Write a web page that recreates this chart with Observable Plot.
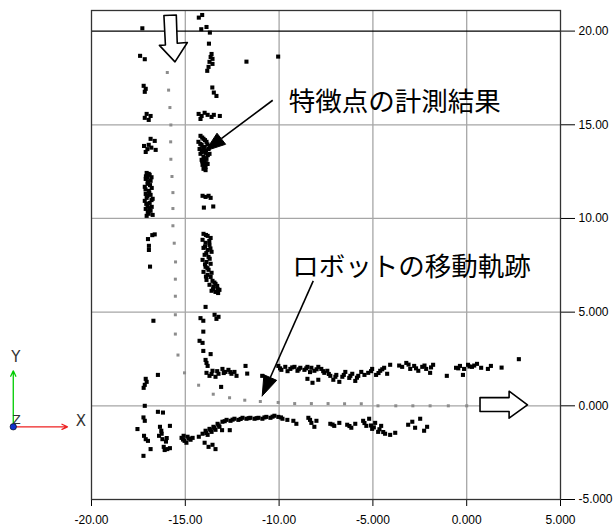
<!DOCTYPE html>
<html>
<head>
<meta charset="utf-8">
<script src="https://cdn.jsdelivr.net/npm/d3@7"></script>
<script src="https://cdn.jsdelivr.net/npm/@observablehq/plot@0.6"></script>
<style>
  html, body { margin: 0; padding: 0; background: #fff; overflow: hidden; }
</style>
</head>
<body>
<div id="chart"></div>
<script>
// ---- Robot trajectory (grey dots) ----
const trajX = [-15.96,-15.89,-15.82,-15.77,-15.78,-15.77,-15.71,-15.66,-15.66,-15.66,-15.59,-15.52,-15.53,-15.53,-15.53,-15.53,-15.39,-15.04,-14.29,-13.51,-12.64,-11.83,-11.00,-10.05,-9.17,-8.28,-7.39,-6.51,-5.62,-4.73,-3.78,-2.87,-1.95,-0.98,0.00];
const trajY = [17.79,16.85,15.92,14.99,14.09,13.16,12.24,11.38,10.53,9.61,8.68,7.68,6.76,5.85,4.86,3.83,2.71,1.76,1.10,0.62,0.43,0.30,0.23,0.18,0.12,0.12,0.12,0.11,0.11,0.00,0.00,0.00,0.00,0.00,0.00];

// ---- Measured feature points (black squares) ----
const featX = [
 -17.29,-17.41,-17.16,-17.22,-17.11,-17.16,-17.06,-16.85,-17.16,-16.95,-16.85,-16.63,-17.20,-17.02,-16.81,-16.58,-17.11,-16.95,
 -17.06,-16.90,-17.11,-16.85,-17.01,-17.16,-16.79,-16.95,-17.11,-16.85,-17.06,-16.74,-17.16,-16.90,-17.01,-16.79,-17.11,-16.85,-16.95,-17.06,-16.74,-17.01,
 -16.76,-16.99,-16.63,-16.94,-16.94,-16.88,-16.70,-16.46,-17.11,-17.06,-17.16,-17.22,-17.16,-17.23,-17.16,-17.55,-17.20,-17.11,-16.99,-16.85,-17.23,
 -16.46,-16.19,-16.35,-16.28,-16.40,-16.22,-15.99,-16.03,-15.82,-16.10,-15.96,-15.82,-16.26,-16.15,
 -14.28,-14.10,-14.15,-13.87,-13.69,-13.74,-13.60,-13.65,-13.55,-13.71,-13.55,-13.76,-13.83,-13.56,-13.48,-13.34,
 -14.29,-14.13,-13.97,-14.19,-13.81,-13.60,-13.48,-13.16,-11.74,-10.05,
 -14.19,-14.03,-14.30,-13.87,-14.13,-13.97,-14.24,-13.76,-14.08,-13.92,-14.19,-13.71,-14.03,-13.87,-14.13,-13.97,-13.81,-14.08,-13.92,-14.03,-13.92,-13.65,
 -14.08,-13.92,-13.76,-13.65,-14.01,-13.51,
 -14.03,-13.81,-13.65,-14.08,-13.92,-13.71,-14.03,-13.81,-13.60,-13.97,-13.76,-14.08,-13.87,-13.65,-13.92,-13.76,-14.03,-13.81,-13.65,-13.55,-13.87,-13.39,-13.71,-13.50,-13.28,-13.60,-13.39,-13.18,
 -13.92,-13.44,-13.23,-13.34,-14.19,-14.04,-14.04,-14.24,-14.08,-14.04,-13.65,-13.92,-13.87,-13.81,
 -13.87,-13.71,-13.55,-13.39,-13.23,-13.02,-12.86,-12.70,-12.54,-12.38,-12.27,-11.79,-11.70,-13.09,-10.90,
 -10.04,-9.88,-9.67,-9.40,-9.18,-9.02,-8.87,-8.65,-8.49,-8.28,-8.12,-7.91,-7.75,-7.59,-7.43,-7.27,-7.11,-6.95,-6.47,-6.26,-6.10,-5.94,-5.78,-5.62,-5.25,-5.04,-4.83,-4.61,-4.40,-4.24,-6.79,-6.63,
 -4.08,-3.44,-3.22,-3.01,-2.80,-2.58,-2.37,-2.16,-1.95,-1.79,-1.06,-0.57,-0.36,-0.14,0.07,0.28,0.55,0.77,-0.20,1.13,1.29,1.86,2.78,-8.49,-8.22,-7.91,
 -15.20,-15.04,-14.88,-14.72,-14.94,-14.61,-15.09,-14.28,
 -14.08,-13.92,-13.81,-13.71,-13.60,-13.50,-13.39,-13.28,-13.18,-13.02,-12.80,-12.59,-12.38,-12.17,-11.95,-11.74,-11.53,-11.31,-11.10,-10.89,-10.68,-10.46,-10.25,-10.04,-9.82,-9.56,
 -13.97,-13.76,-13.55,-13.39,-13.04,-12.63,
 -9.24,-9.08,-8.44,-8.28,-8.12,-8.01,-7.27,-7.06,-6.79,-6.37,-6.15,-5.94,-5.52,-5.35,-5.20,-5.04,-4.88,-4.72,-4.56,-4.35,-4.08,-3.81,-3.12,-2.90,-2.75,-2.48,-2.27,-2.11
];
const featY = [
 20.15,18.68,18.50,17.08,16.92,16.76,15.58,15.47,15.37,15.26,14.25,14.14,13.87,13.70,13.78,13.66,13.55,13.93,
 12.43,12.33,12.11,12.01,11.85,11.69,11.63,11.47,11.31,11.26,11.10,11.05,10.94,10.83,10.67,10.62,10.51,10.41,10.25,10.14,10.19,12.17,
 9.11,8.90,9.15,8.54,8.32,7.43,4.54,1.65,1.44,1.28,1.12,0.96,0.00,-0.62,-0.80,-1.24,-1.60,-1.78,-1.87,-2.31,-2.67,
 -0.32,-0.36,-1.12,-1.33,-1.60,-1.78,-1.72,-1.91,-1.07,-2.36,-2.31,-2.26,-1.49,-2.19,
 20.72,20.86,20.10,20.22,19.92,19.33,18.78,18.62,18.52,18.36,18.25,18.09,17.88,16.99,16.72,16.54,
 15.58,15.47,15.64,15.31,15.53,15.42,15.53,15.47,18.37,18.64,
 14.41,14.25,14.09,14.09,13.93,13.82,13.71,13.71,13.61,13.50,13.45,13.45,13.29,13.18,13.13,13.02,12.91,12.86,12.75,12.65,12.58,13.87,
 11.21,11.15,11.21,11.10,10.58,10.64,
 9.18,9.07,8.96,8.86,8.70,8.59,8.43,8.32,8.22,8.06,7.95,7.79,7.68,7.58,7.42,7.26,7.15,6.99,6.88,6.67,6.72,6.51,6.46,6.35,6.24,6.14,6.08,6.19,
 5.28,4.86,4.75,4.64,4.68,4.54,3.96,3.47,3.36,2.93,2.76,2.45,2.29,2.13,
 1.76,1.60,1.87,1.55,1.71,1.97,1.81,1.92,1.71,1.81,1.60,2.13,1.72,1.01,1.60,
 2.13,1.92,2.08,1.97,2.08,1.87,2.03,1.92,2.08,2.03,1.87,2.08,1.97,1.76,1.87,1.60,1.39,1.65,1.81,1.49,1.71,1.33,1.60,1.81,1.76,1.97,1.65,1.87,2.03,1.71,1.28,1.55,
 2.19,2.08,2.29,1.97,2.13,1.87,2.08,1.97,1.76,2.19,1.60,2.03,2.13,1.97,2.19,2.08,2.24,2.03,1.65,1.97,2.13,2.04,2.49,1.44,1.23,1.39,
 -1.71,-1.87,-1.65,-1.81,-1.97,-1.71,-1.60,-1.65,
 -1.49,-1.33,-1.55,-1.23,-1.39,-1.12,-1.28,-0.96,-1.12,-0.85,-0.75,-0.80,-0.69,-0.75,-0.64,-0.69,-0.64,-0.69,-0.64,-0.69,-0.59,-0.64,-0.53,-0.59,-0.69,-0.75,
 -1.97,-2.19,-2.08,-2.31,-1.30,-1.30,
 -0.80,-0.96,-0.64,-0.91,-1.12,-0.80,-0.96,-1.07,-0.91,-1.01,-1.17,-0.96,-0.80,-1.07,-0.69,-1.23,-0.91,-1.39,-1.07,-1.49,-1.55,-1.44,-1.01,-0.85,-1.17,-0.69,-1.33,-1.12
];
// additional points read in the dense clusters
const featX2 = [
 -16.95,-17.10,-16.80,-17.00,-16.88,-17.12,-16.92,-17.02,-16.80,-17.08,-16.92,-17.00,
 -14.10,-13.95,-14.20,-13.82,-14.05,-13.90,-14.12,-13.80,-14.00,-14.10,-13.88,-13.98,
 -13.90,-13.72,-13.95,-13.66,-13.88,-13.70,-13.95,-13.82,-13.60,-13.90,-13.45,-13.30,-13.52,-13.25,
 -13.60,-13.30,-12.95,-12.60,-9.95,-9.55,-9.30,-8.95,-8.55,-8.35,-8.00,-7.65,-7.35,-7.00,-6.55,-6.20,-5.85,-5.45,-5.10,-4.70,-4.50,-3.60,-3.10,-2.70,-2.25,-1.90,-0.45,0.15,0.40,
 -15.12,-14.80,-13.88,-13.65,-13.45,-13.22,-12.90,-12.48,-12.05,-11.62,-11.20,-10.78,-10.35,-9.90,-8.35,-7.15,-6.25,-5.45,-5.10,-4.95,-4.65,-4.45
];
const featY2 = [
 12.38,12.25,12.20,11.95,11.78,11.55,11.38,11.20,10.98,10.78,10.55,10.35,
 14.32,14.18,13.98,13.95,13.78,13.62,13.55,13.38,13.22,13.05,12.95,12.80,
 9.12,8.80,8.50,8.40,8.15,7.85,7.55,7.35,7.10,6.90,6.58,6.40,6.22,6.02,
 1.70,1.85,1.75,1.80,2.00,1.85,2.05,1.95,2.00,1.80,1.95,1.85,1.70,1.55,1.65,1.60,1.50,1.65,1.85,1.75,1.95,2.15,2.20,2.00,2.15,2.05,2.00,2.10,2.15,
 -1.80,-1.75,-1.45,-1.30,-1.18,-1.05,-0.82,-0.74,-0.70,-0.66,-0.66,-0.62,-0.58,-0.62,-0.75,-1.00,-1.08,-0.92,-1.05,-1.15,-1.25,-1.40
];

// ---- Axis ticks ----
const xTicks = [-20, -15, -10, -5, 0, 5];
const xTickLabels = ["-20.00", "-15.00", "-10.00", "-5.000", "0.000", "5.000"];
const yTicks = [-5, 0, 5, 10, 15, 20];
const yTickLabels = ["-5.000", "0.000", "5.000", "10.00", "15.00", "20.00"];

// ---- Annotations ----
const labelTexts = ["特徴点の計測結果", "ロボットの移動軌跡"];
const labelX = [-9.49, -9.30];
const labelY = [16.17, 7.36];
const pointerX1 = [-10.34, -8.18];
const pointerY1 = [16.31, 6.67];
const pointerX2 = [-13.08, -10.47];
const pointerY2 = [14.26, 1.51];
const headX = [[-13.92, -12.85, -13.31], [-10.90, -10.13, -10.81]];
const headY = [[13.61, 13.96, 14.55], [0.53, 1.36, 1.66]];
const downArrowX = [-16.14, -15.48, -15.43, -14.89, -15.55, -16.38, -16.06, -16.14];
const downArrowY = [20.83, 20.86, 19.35, 19.39, 18.36, 19.24, 19.26, 20.83];
const rightArrowX = [0.71, 2.26, 2.26, 3.24, 2.26, 2.26, 0.71, 0.71];
const rightArrowY = [0.44, 0.44, 0.78, 0.05, -0.66, -0.30, -0.30, 0.44];
const triadOrigin = [-24.17, -1.12];
const triadYEnd = [-24.17, 1.87];
const triadXEnd = [-21.28, -1.12];
const triadLabels = ["Y", "X", "Z"];
const triadLabelX = [-24.03, -20.57, -23.99];
const triadLabelY = [2.58, -0.84, -0.76];

// ---- Build tables ----
const traj = trajX.map((x, i) => ({x, y: trajY[i]}));
const feat = [...featX.map((x, i) => ({x, y: featY[i]})), ...featX2.map((x, i) => ({x, y: featY2[i]}))];
const labels = labelTexts.map((t, i) => ({t, x: labelX[i], y: labelY[i]}));
const pointers = pointerX1.map((x1, i) => ({x1, y1: pointerY1[i], x2: pointerX2[i], y2: pointerY2[i]}));
const heads = headX.flatMap((xs, k) => [...xs, xs[0]].map((x, j) => ({k, x, y: [...headY[k], headY[k][0]][j]})));
const downArrow = downArrowX.map((x, i) => ({x, y: downArrowY[i]}));
const rightArrow = rightArrowX.map((x, i) => ({x, y: rightArrowY[i]}));
const triad = triadLabels.map((t, i) => ({t, x: triadLabelX[i], y: triadLabelY[i]}));

const chart = Plot.plot({
  width: 614,
  height: 532,
  marginLeft: 91,
  marginRight: 54,
  marginTop: 10,
  marginBottom: 33,
  style: {fontFamily: "Liberation Sans, Arial, sans-serif", fontSize: "12px", color: "#000", background: "#fff"},
  x: {
    domain: [-20, 5],
    ticks: xTicks,
    tickFormat: d => xTickLabels[xTicks.indexOf(d)],
    tickSize: 7,
    tickPadding: 9,
    label: null
  },
  y: {
    domain: [-5, 21.1],
    axis: "right",
    ticks: yTicks,
    tickFormat: d => yTickLabels[yTicks.indexOf(d)],
    tickSize: 14,
    tickPadding: 4,
    label: null
  },
  marks: [
    Plot.ruleX(xTicks.slice(1, -1), {stroke: "#a6a6a6", strokeWidth: 1.3}),
    Plot.ruleY(yTicks.slice(1, -1).filter(v => v !== 20), {stroke: "#a6a6a6", strokeWidth: 1.3}),
    Plot.ruleY([20], {stroke: "#000", strokeWidth: 1.3}),
    Plot.frame({stroke: "#333", strokeWidth: 1.3}),
    Plot.dot(traj, {x: "x", y: "y", symbol: "square", r: 1.7, fill: "#8c8c8c", stroke: null}),
    Plot.dot(feat, {x: "x", y: "y", symbol: "square", r: 2.3, fill: "#000", stroke: null}),
    Plot.line(downArrow, {x: "x", y: "y", fill: "#fff", stroke: "#000", strokeWidth: 1.6, curve: "linear"}),
    Plot.line(rightArrow, {x: "x", y: "y", fill: "#fff", stroke: "#000", strokeWidth: 1.6, curve: "linear"}),
    Plot.link(pointers, {x1: "x1", y1: "y1", x2: "x2", y2: "y2", stroke: "#000", strokeWidth: 1.6}),
    Plot.line(heads, {x: "x", y: "y", z: "k", fill: "#000", stroke: "#000", strokeWidth: 1}),
    Plot.text(labels, {x: "x", y: "y", text: "t", textAnchor: "start", fontSize: 26.5, fill: "#000",
      fontFamily: "Noto Sans CJK JP, sans-serif"}),
    Plot.arrow([{x1: triadOrigin[0], y1: triadOrigin[1], x2: triadYEnd[0], y2: triadYEnd[1]}],
      {x1: "x1", y1: "y1", x2: "x2", y2: "y2", stroke: "#00cc00", strokeWidth: 1.3, headLength: 7, headAngle: 50}),
    Plot.arrow([{x1: triadOrigin[0], y1: triadOrigin[1], x2: triadXEnd[0], y2: triadXEnd[1]}],
      {x1: "x1", y1: "y1", x2: "x2", y2: "y2", stroke: "#ee2222", strokeWidth: 1.3, headLength: 7, headAngle: 50}),
    Plot.dot([{x: triadOrigin[0], y: triadOrigin[1]}], {x: "x", y: "y", r: 3.2, fill: "#1133cc", stroke: "#000", strokeWidth: 0.6}),
    Plot.text(triad, {x: "x", y: "y", text: "t", fontSize: d => d.t === "Z" ? 12 : 15, fill: "#333",
      fontFamily: "DejaVu Sans, sans-serif"})
  ]
});
document.getElementById("chart").appendChild(chart);
</script>
</body>
</html>
